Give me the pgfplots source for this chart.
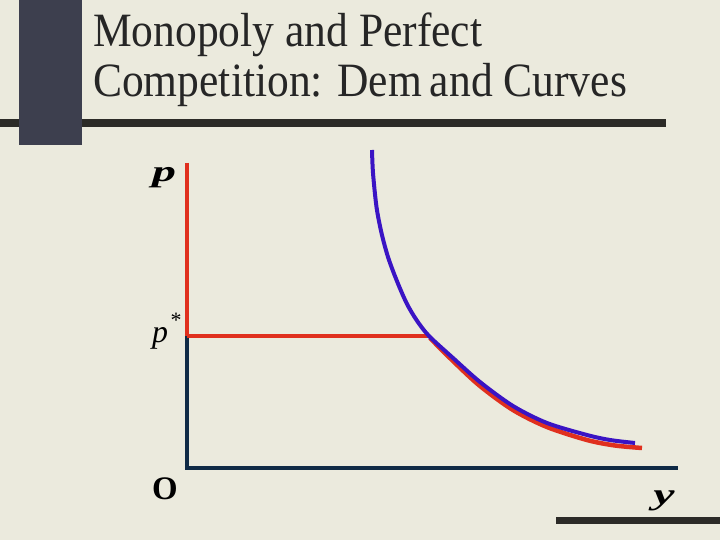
\documentclass[border=0pt]{standalone}
\usepackage{pgfplots}
\pgfplotsset{compat=1.18}
\usepackage{fontspec}
\setmainfont{Liberation Serif}
\newfontfamily\titlefont[FakeStretch=0.91]{Liberation Serif}
\newfontfamily\widefont[FakeStretch=1.6]{Liberation Serif}
\definecolor{bgc}{HTML}{EBEADD}
\definecolor{blockc}{HTML}{3D3F4E}
\definecolor{barc}{HTML}{2C2B27}
\definecolor{axisc}{HTML}{0F2A45}
\definecolor{curveblue}{HTML}{3A14C4}
\definecolor{curvered}{HTML}{E0301E}
\begin{document}
\begin{tikzpicture}
\begin{axis}[
  at={(0,0)}, anchor=south west,
  scale only axis, width=720bp, height=540bp,
  xmin=0, xmax=720, ymin=0, ymax=540, y dir=reverse,
  hide axis, clip=false,
]
% background and slide decorations
\fill[bgc] (axis cs:0,0) rectangle (axis cs:720,540);
\fill[barc] (axis cs:0,119) rectangle (axis cs:666,127);
\fill[blockc] (axis cs:19,0) rectangle (axis cs:82,145);
\fill[barc] (axis cs:556,517) rectangle (axis cs:720,524);
% title
\node[anchor=base west, inner sep=0pt, text=black!85, font=\titlefont\fontsize{48}{50}\selectfont] at (axis cs:93,47) {Monopoly and Perfect};
\node[anchor=base west, inner sep=0pt, text=black!85, font=\titlefont\fontsize{48}{50}\selectfont] at (axis cs:93,97) {Competition: Dem\,and Curves};
% axes
\addplot[curvered, line width=3.2bp, line cap=butt] coordinates {(187,163) (187,336)};
\addplot[axisc, line width=3.2bp] coordinates {(187,336) (187,468) (678,468)};
\addplot[curvered, line width=3.5bp] coordinates {(187,336) (430,336)};
% demand curves
\addplot[curvered, line width=4.5bp, smooth] coordinates {
 (430,338) (453,361) (480,386) (513,410) (547,427) (587,440) (615,445.5) (642,448)};
\addplot[curveblue, line width=4bp, smooth] coordinates {
 (372,150) (373,173) (376.5,207) (381.5,233) (388,257) (396.5,280) (406.5,303) (416.5,320) (429,336) (453,358) (480,382) (513,406) (547,423) (587,435) (610,440) (635,443)};
% labels
\node[anchor=base, inner sep=0pt, font=\widefont\fontsize{30}{30}\selectfont\bfseries\itshape] at (axis cs:164,182) {p};
\node[anchor=base, inner sep=0pt, font=\fontsize{32}{32}\selectfont\itshape] at (axis cs:160,342) {p};
\node[anchor=base, inner sep=0pt, font=\fontsize{22}{22}\selectfont] at (axis cs:176,327) {*};
\node[anchor=base, inner sep=0pt, font=\fontsize{33}{33}\selectfont\bfseries] at (axis cs:165,499) {O};
\node[anchor=base, inner sep=0pt, font=\widefont\fontsize{30}{30}\selectfont\bfseries\itshape] at (axis cs:664,504) {y};
\end{axis}
\end{tikzpicture}
\end{document}
